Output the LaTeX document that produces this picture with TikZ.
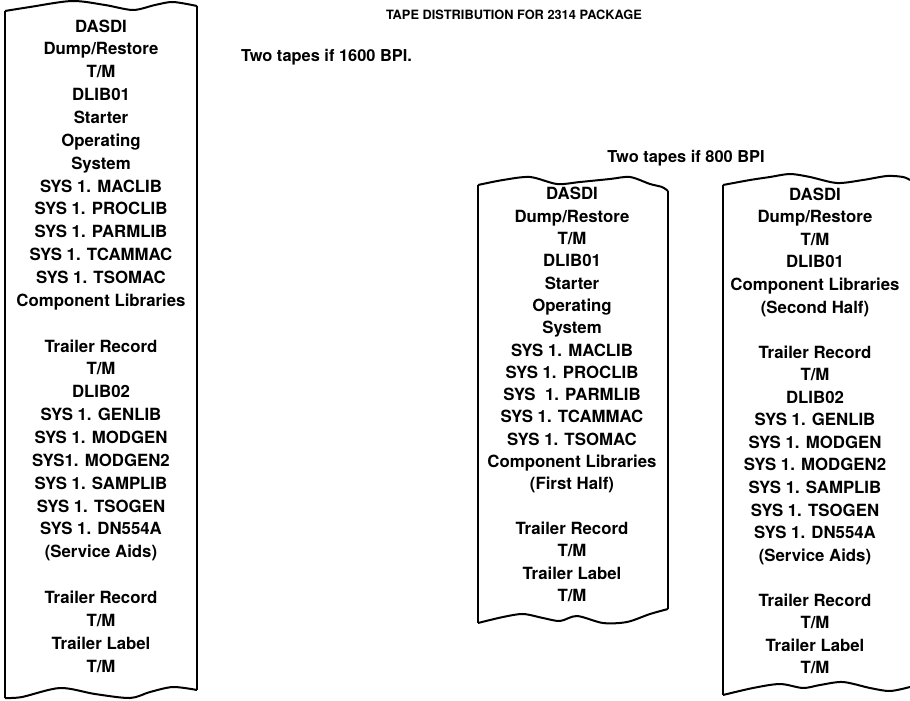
\documentclass[tikz,border=0pt]{standalone}
\usepackage{fontspec}
\setmainfont{TeX Gyre Heros}

\begin{document}
\begin{tikzpicture}[
    x=0.5pt, y=-0.5pt,
    line width=1pt,
    tapetext/.style={align=center, inner sep=0pt, font=\bfseries\fontsize{8.4}{#1}\selectfont},
    tapetext/.default=11.3pt,
    heading/.style={inner sep=0pt, font=\bfseries\fontsize{8.2}{9}\selectfont}
]
    \useasboundingbox (0,0) rectangle (910,701);

    % Headings
    \node[heading, font=\bfseries\fontsize{6.4}{8}\selectfont, anchor=west] (title) at (385,15) {TAPE DISTRIBUTION FOR 2314 PACKAGE};
    \node[heading, anchor=west] (oneTape) at (240,57) {Two tapes if 1600 BPI.};
    \node[heading] (twoTape) at (686,158) {Two tapes if 800 BPI};

    % Tape 1600 BPI (left)
    \draw (5,11) -- (5,698);
    \draw (197,6) -- (197,690);
    \draw plot[smooth] coordinates {(5,11) (30,7) (72,1) (105,5) (133,10) (155,5) (173,2) (197,6)};
    \draw plot[smooth] coordinates {(5,698) (22,697) (60,688) (95,694) (130,698) (150,692) (173,687) (197,690)};

    % Tape 800 BPI, first (middle)
    \draw (478,185) -- (478,623);
    \draw (668,191) -- (668,609);
    \draw plot[smooth] coordinates {(478,185) (503,180) (530,177) (557,184) (580,182) (610,179) (630,177) (650,184) (662,187) (668,191)};
    \draw plot[smooth] coordinates {(478,623) (503,617) (523,614) (543,618) (560,621) (577,616) (603,623) (627,622) (650,614) (668,609)};

    % Tape 800 BPI, second (right)
    \draw (723,185) -- (723,695);
    \draw plot[smooth] coordinates {(723,185) (750,180) (770,177) (790,174) (810,177) (837,183) (863,180) (887,176) (903,177) (910,180)};
    \draw plot[smooth] coordinates {(723,695) (753,688) (780,684) (803,688) (820,685) (843,682) (870,688) (890,691) (910,687)};

    % Tape contents
    \node[tapetext=11.43pt] (listFull) at (101,346) {DASDI\\ Dump/Restore\\ T/M\\ DLIB01\\ Starter\\ Operating\\ System\\
        SYS 1. MACLIB\\ SYS 1. PROCLIB\\ SYS 1. PARMLIB\\ SYS 1. TCAMMAC\\ SYS 1. TSOMAC\\ Component Libraries\\ \mbox{}\\
        Trailer Record\\ T/M\\ DLIB02\\ SYS 1. GENLIB\\ SYS 1. MODGEN\\ SYS1. MODGEN2\\ SYS 1. SAMPLIB\\ SYS 1. TSOGEN\\
        SYS 1. DN554A\\ (Service Aids)\\ \mbox{}\\ Trailer Record\\ T/M\\ Trailer Label\\ T/M};

    \node[tapetext=11.15pt] (listFirst) at (572,394.5) {DASDI\\ Dump/Restore\\ T/M\\ DLIB01\\ Starter\\ Operating\\ System\\
        SYS 1. MACLIB\\ SYS 1. PROCLIB\\ SYS\ \ 1. PARMLIB\\ SYS 1. TCAMMAC\\ SYS 1. TSOMAC\\ Component Libraries\\ (First Half)\\ \mbox{}\\
        Trailer Record\\ T/M\\ Trailer Label\\ T/M};

    \node[tapetext=11.28pt] (listSecond) at (815,431) {DASDI\\ Dump/Restore\\ T/M\\ DLIB01\\ Component Libraries\\ (Second Half)\\ \mbox{}\\
        Trailer Record\\ T/M\\ DLIB02\\ SYS 1. GENLIB\\ SYS 1. MODGEN\\ SYS 1. MODGEN2\\ SYS 1. SAMPLIB\\ SYS 1. TSOGEN\\
        SYS 1. DN554A\\ (Service Aids)\\ \mbox{}\\ Trailer Record\\ T/M\\ Trailer Label\\ T/M};

\end{tikzpicture}
\end{document}
